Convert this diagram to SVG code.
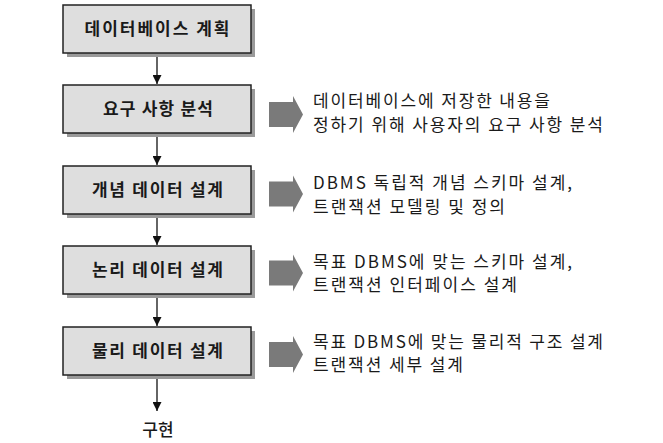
<svg xmlns="http://www.w3.org/2000/svg" width="663" height="443" viewBox="0 0 663 443">
<style>
.box{fill:#dedede;stroke:#222;stroke-width:1.5}
.shadow{fill:#9a9a9a}
.bt{font-family:"Noto Sans CJK KR","Noto Sans",sans-serif;font-size:17px;font-weight:bold;fill:#1a1a1a;text-anchor:middle}
.rt{font-family:"Noto Sans CJK KR","Noto Sans",sans-serif;font-size:17px;fill:#1a1a1a}
.conn{stroke:#111;stroke-width:1.3;fill:none;marker-end:url(#ah)}
.blk{fill:#7a7a7a}
</style>
<defs>
<marker id="ah" viewBox="0 0 10 10" refX="10" refY="5" markerWidth="9" markerHeight="9" markerUnits="userSpaceOnUse" orient="auto">
<path d="M0,0 L10,5 L0,10 z" fill="#111"/>
</marker>
</defs>
<rect width="663" height="443" fill="#fff"/>
<g id="connectors">
<line class="conn" x1="157" y1="53" x2="157" y2="84"/>
<line class="conn" x1="157" y1="132" x2="157" y2="165"/>
<line class="conn" x1="157" y1="213" x2="157" y2="245"/>
<line class="conn" x1="157" y1="294" x2="157" y2="326"/>
<line class="conn" x1="157" y1="375" x2="157" y2="411"/>
</g>
<g id="n1">
<rect class="shadow" x="67" y="9" width="188" height="48"/>
<rect class="box" x="63" y="5" width="188" height="48"/>
<text class="bt" x="157" y="35" textLength="145" lengthAdjust="spacing">데이터베이스 계획</text>
</g>
<g id="n2">
<rect class="shadow" x="67" y="89" width="188" height="48"/>
<rect class="box" x="63" y="85" width="188" height="48"/>
<text class="bt" x="158" y="115" textLength="110" lengthAdjust="spacing">요구 사항 분석</text>
</g>
<g id="n3">
<rect class="shadow" x="67" y="170" width="188" height="48"/>
<rect class="box" x="63" y="166" width="188" height="48"/>
<text class="bt" x="157.5" y="196" textLength="131" lengthAdjust="spacing">개념 데이터 설계</text>
</g>
<g id="n4">
<rect class="shadow" x="67" y="250" width="188" height="48"/>
<rect class="box" x="63" y="246" width="188" height="48"/>
<text class="bt" x="157.5" y="276" textLength="131" lengthAdjust="spacing">논리 데이터 설계</text>
</g>
<g id="n5">
<rect class="shadow" x="67" y="331" width="188" height="48"/>
<rect class="box" x="63" y="327" width="188" height="48"/>
<text class="bt" x="157.5" y="357" textLength="131" lengthAdjust="spacing">물리 데이터 설계</text>
</g>
<g id="n6">
<text class="bt" x="158" y="436" style="font-weight:500">구현</text>
</g>
<g id="d1">
<polygon class="blk" points="269,102 293,102 293,96 303,114.5 293,133 293,127 269,127"/>
<text class="rt" x="313" y="107" textLength="237" lengthAdjust="spacing">데이터베이스에 저장한 내용을</text>
<text class="rt" x="313" y="131" textLength="290" lengthAdjust="spacing">정하기 위해 사용자의 요구 사항 분석</text>
</g>
<g id="d2">
<polygon class="blk" points="269,181.5 293,181.5 293,175.5 303,194 293,212.5 293,206.5 269,206.5"/>
<text class="rt" x="313" y="189" textLength="259" lengthAdjust="spacing">DBMS 독립적 개념 스키마 설계,</text>
<text class="rt" x="313" y="213" textLength="192" lengthAdjust="spacing">트랜잭션 모델링 및 정의</text>
</g>
<g id="d3">
<polygon class="blk" points="269,260.5 293,260.5 293,254.5 303,273 293,291.5 293,285.5 269,285.5"/>
<text class="rt" x="313" y="267.5" textLength="259" lengthAdjust="spacing">목표 DBMS에 맞는 스키마 설계,</text>
<text class="rt" x="313" y="291" textLength="204" lengthAdjust="spacing">트랜잭션 인터페이스 설계</text>
</g>
<g id="d4">
<polygon class="blk" points="269,342 293,342 293,336 303,354.5 293,373 293,367 269,367"/>
<text class="rt" x="313" y="347.5" textLength="290" lengthAdjust="spacing">목표 DBMS에 맞는 물리적 구조 설계</text>
<text class="rt" x="313" y="371" textLength="150" lengthAdjust="spacing">트랜잭션 세부 설계</text>
</g>
</svg>
